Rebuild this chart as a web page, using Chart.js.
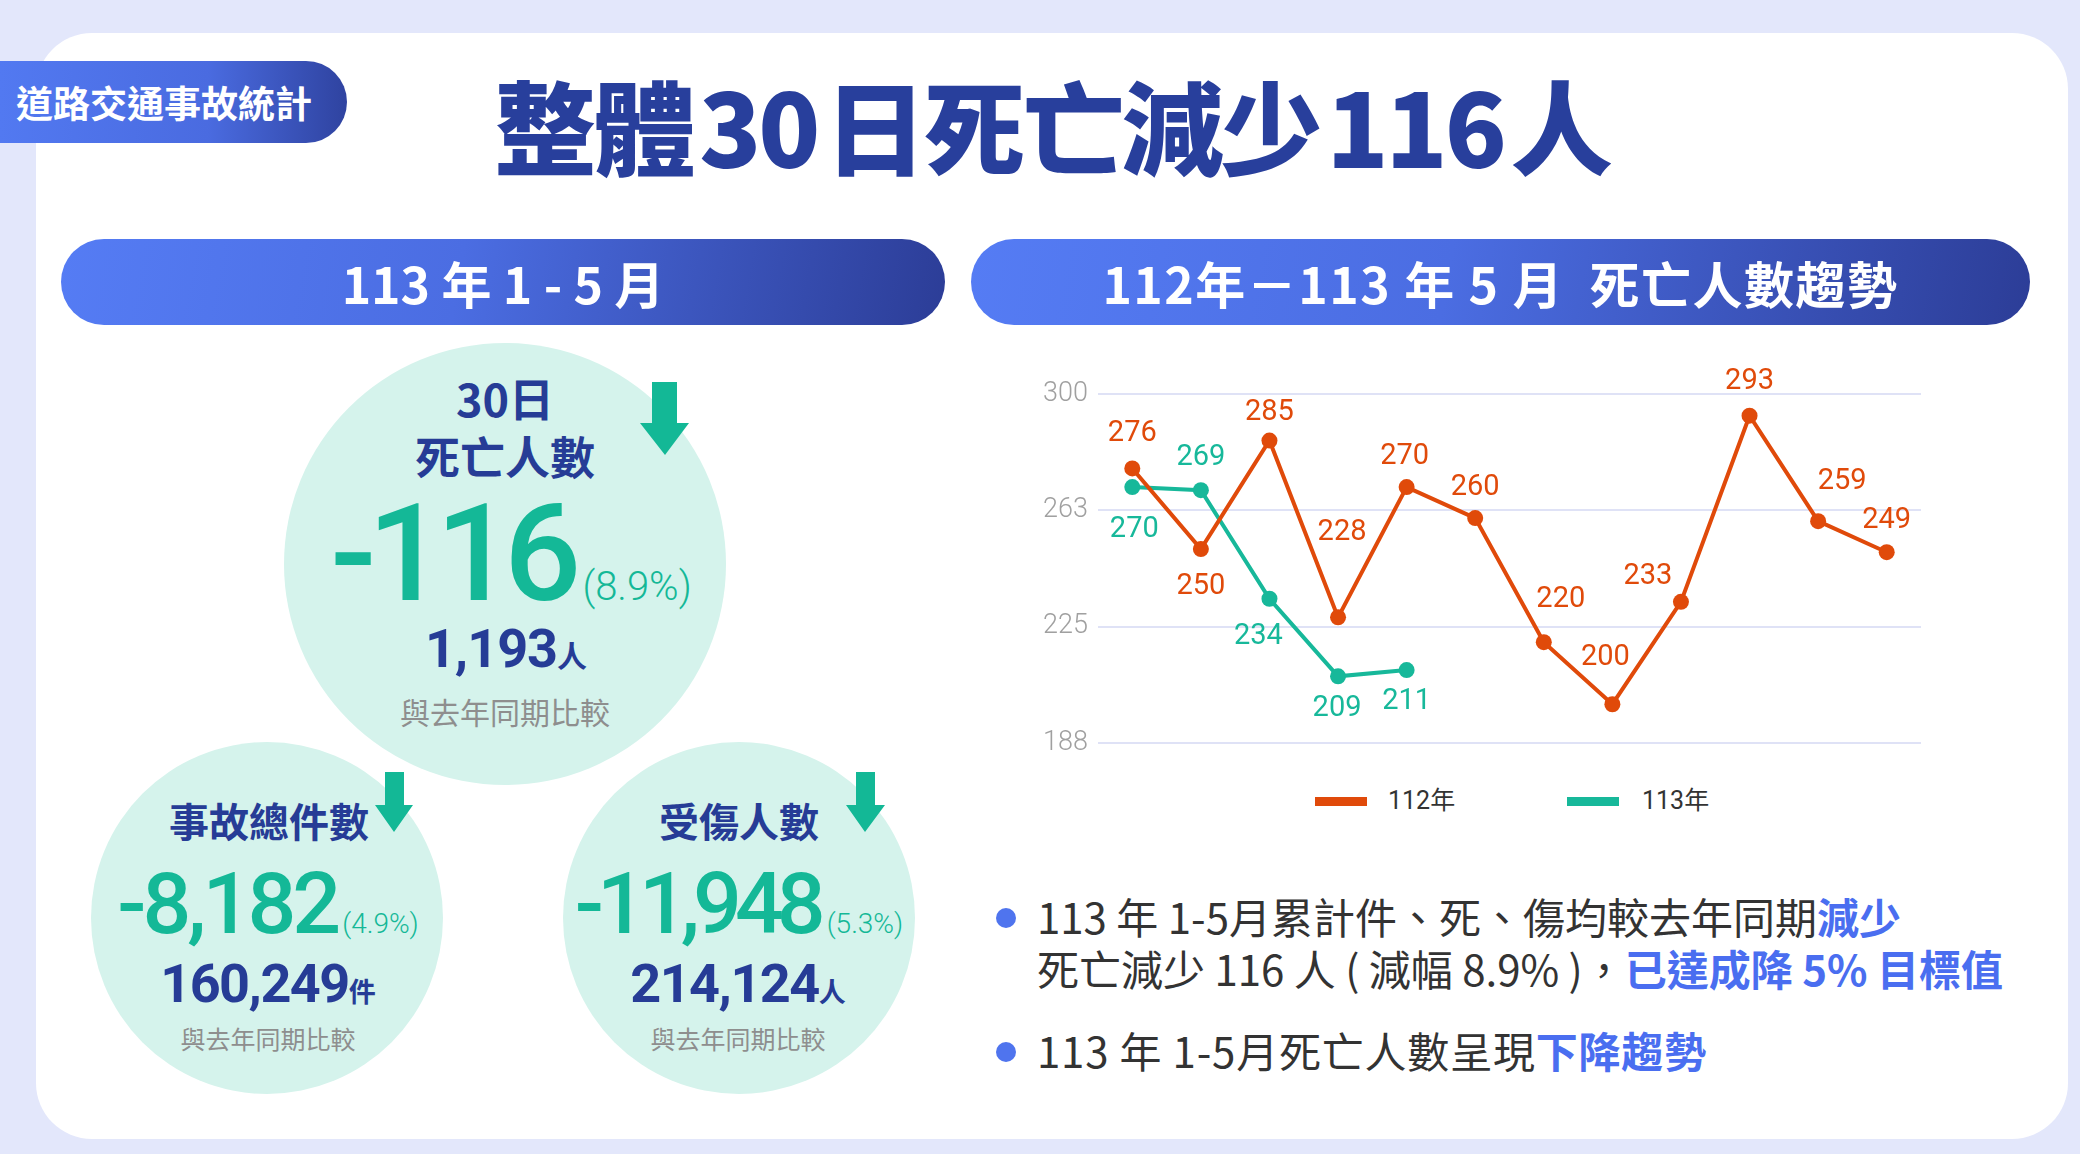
<!DOCTYPE html>
<html>
<head>
<meta charset="utf-8">
<script src="https://cdn.jsdelivr.net/npm/chart.js@4.4.1/dist/chart.umd.min.js"></script>
<style>
  body { margin: 0; width: 2080px; height: 1154px; background: #e3e7fb; position: relative; overflow: hidden;
         font-family: "Noto Sans CJK TC", "Noto Sans", sans-serif; }
  .abs { position: absolute; white-space: nowrap; }
  .card { left: 36px; top: 33px; width: 2032px; height: 1106px; background: #fff; border-radius: 56px; }
  .tag { left: 0; top: 61px; width: 347px; height: 82px; border-radius: 0 41px 41px 0;
         background: linear-gradient(90deg, #5279f1 0%, #4a6be0 60%, #2f43a0 100%);
         color: #fff; font-weight: 700; font-size: 37px; line-height: 82px; text-indent: 16px; }
  .title { left: 36px; width: 2032px; top: 68px; text-align: center; color: #283f9c; font-weight: 900;
           font-size: 102px; line-height: 112px; letter-spacing: -3px; }
  .title span { margin: 0 7px; }
  .pill { height: 86px; border-radius: 43px; color: #fff; font-weight: 700; font-size: 50px; line-height: 86px;
          text-align: center; background: linear-gradient(100deg, #557cf4 0%, #4b6de2 45%, #2c3d97 100%); }
  .row { text-align: center; width: 600px; }
  .navy { color: #263c96; font-weight: 700; }
  .num { font-family: Roboto, "Noto Sans", sans-serif; color: #14b897; line-height: 0.75; }
  .gray { color: #8e8e8e; }
  .txt { left: 1037px; font-size: 42px; color: #333; line-height: 1; }
  .hl { color: #4a6ef0; font-weight: 700; }
  .leg { top: 788px; font-family: Roboto, "Noto Sans CJK TC", sans-serif; font-size: 25px; color: #333; line-height: 26px; }
  .bar { top: 797px; width: 52px; height: 9px; }
  #chartBox { left: 1020px; top: 360px; width: 940px; height: 410px; }
</style>
</head>
<body>
<div class="abs card"></div>
<div class="abs tag">道路交通事故統計</div>
<div class="abs title">整體<span>30</span>日死亡減少<span>116</span>人</div>
<div class="abs pill" style="left:61px;top:239px;width:884px;">113 年 1 - 5 月</div>
<div class="abs pill" style="left:971px;top:239px;width:1059px;letter-spacing:1.5px;">112年－113 年 5 月&nbsp;&nbsp;死亡人數趨勢</div>

<svg class="abs" style="left:0;top:0" width="2080" height="1154">
  <circle cx="505" cy="564" r="221" fill="#d5f3ec"/>
  <circle cx="267" cy="918" r="176" fill="#d5f3ec"/>
  <circle cx="739" cy="918" r="176" fill="#d5f3ec"/>
  <polygon points="652,382 677,382 677,423 689,423 665,455 640,423 652,423" fill="#13b896"/>
  <polygon points="385,772 404,772 404,805 413,805 394,832 375,805 385,805" fill="#13b896"/>
  <polygon points="856,772 875,772 875,805 885,805 865,832 846,805 856,805" fill="#13b896"/>
  <circle cx="1006" cy="918" r="10" fill="#4f74ee"/>
  <circle cx="1006" cy="1052" r="10" fill="#4f74ee"/>
</svg>

<!-- big circle -->
<div class="abs row navy" style="left:205px;top:378px;font-size:45px;line-height:40px;">30日</div>
<div class="abs row navy" style="left:205px;top:436px;font-size:45px;line-height:40px;">死亡人數</div>
<div class="abs row num" style="left:211px;top:503px;"><span style="font-size:136px;font-weight:500;letter-spacing:-9px;">-116</span><span style="font-size:40px;font-weight:300;margin-left:10px;">(8.9%)</span></div>
<div class="abs row num navy" style="left:206px;top:629px;color:#263c96;"><span style="font-size:54px;letter-spacing:-1px;">1,193</span><span style="font-size:30px;font-family:'Noto Sans CJK TC';">人</span></div>
<div class="abs row gray" style="left:205px;top:698px;font-size:30px;line-height:26px;">與去年同期比較</div>

<!-- left small circle -->
<div class="abs row navy" style="left:-31px;top:802px;font-size:40px;line-height:36px;">事故總件數</div>
<div class="abs row num" style="left:-32px;top:872px;"><span style="font-size:86px;font-weight:500;letter-spacing:-4px;">-8,182</span><span style="font-size:28px;font-weight:300;margin-left:5px;">(4.9%)</span></div>
<div class="abs row num navy" style="left:-32px;top:964px;color:#263c96;"><span style="font-size:54px;letter-spacing:-1.5px;">160,249</span><span style="font-size:27px;font-family:'Noto Sans CJK TC';">件</span></div>
<div class="abs row gray" style="left:-32px;top:1027px;font-size:25px;line-height:22px;">與去年同期比較</div>

<!-- right small circle -->
<div class="abs row navy" style="left:439px;top:802px;font-size:40px;line-height:36px;">受傷人數</div>
<div class="abs row num" style="left:439px;top:872px;"><span style="font-size:86px;font-weight:500;letter-spacing:-7px;">-11,948</span><span style="font-size:28px;font-weight:300;margin-left:8px;">(5.3%)</span></div>
<div class="abs row num navy" style="left:438px;top:964px;color:#263c96;"><span style="font-size:54px;letter-spacing:-1.5px;">214,124</span><span style="font-size:27px;font-family:'Noto Sans CJK TC';">人</span></div>
<div class="abs row gray" style="left:438px;top:1027px;font-size:25px;line-height:22px;">與去年同期比較</div>

<!-- bullets -->
<div class="abs txt" style="top:897px;line-height:38px;">113 年 1-5月累計件、死、傷均較去年同期<span class="hl">減少</span></div>
<div class="abs txt" style="top:949px;line-height:38px;">死亡減少 116 人 ( 減幅 8.9% )，<span class="hl">已達成降 5% 目標值</span></div>
<div class="abs txt" style="top:1031px;line-height:38px;letter-spacing:0.8px;">113 年 1-5月死亡人數呈現<span class="hl">下降趨勢</span></div>

<!-- legend -->
<div class="abs bar" style="left:1315px;background:#e04a0a;"></div>
<div class="abs leg" style="left:1388px;">112年</div>
<div class="abs bar" style="left:1567px;background:#17b89a;"></div>
<div class="abs leg" style="left:1642px;">113年</div>

<div class="abs" id="chartBox"><canvas id="trend"></canvas></div>

<script>
// months (categories) and yearly series
const months = ['1月', '2月', '3月', '4月', '5月', '6月', '7月', '8月', '9月', '10月', '11月', '12月'];
const deaths112 = [276, 250, 285, 228, 270, 260, 220, 200, 233, 293, 259, 249];
const deaths113 = [270, 269, 234, 209, 211];
const yTicks = [187.5, 225, 262.5, 300];

const orange = '#e04a0a';
const teal = '#17b89a';

// draws each value beside its point
const valueLabels = {
  id: 'valueLabels',
  afterDatasetsDraw(chart) {
    const ctx = chart.ctx;
    ctx.save();
    ctx.font = '400 29px Roboto';
    ctx.textAlign = 'center';
    ctx.textBaseline = 'middle';
    chart.data.datasets.forEach((ds, i) => {
      chart.getDatasetMeta(i).data.forEach((pt, j) => {
        const shift = ds.labelShift[j];
        ctx.fillStyle = ds.borderColor;
        ctx.fillText(ds.data[j], pt.x + shift[0], pt.y + shift[1]);
      });
    });
    ctx.restore();
  }
};

new Chart(document.getElementById('trend'), {
  type: 'line',
  data: {
    labels: months,
    datasets: [{
      label: '112年',
      data: deaths112,
      borderColor: orange,
      backgroundColor: orange,
      labelShift: [[0, -35], [0, 38], [0, -28], [4, -85], [-2, -30], [0, -30], [17, -42], [-7, -46], [-33, -25], [0, -34], [24, -39], [0, -31]]
    }, {
      label: '113年',
      data: deaths113,
      borderColor: teal,
      backgroundColor: teal,
      labelShift: [[2, 43], [0, -32], [-11, 38], [-1, 32], [0, 32]]
    }]
  },
  options: {
    responsive: true,
    maintainAspectRatio: false,
    animation: false,
    layout: { padding: { top: 34, right: 39, bottom: 27, left: 0 } },
    elements: {
      line: { borderWidth: 4, tension: 0 },
      point: { radius: 8, hoverRadius: 8, borderWidth: 0 }
    },
    plugins: { legend: { display: false }, tooltip: { enabled: false } },
    scales: {
      x: { display: false, offset: true },
      y: {
        min: 187.5, max: 300,
        afterFit: s => { s.width = 78; },
        afterBuildTicks: s => { s.ticks = yTicks.map(v => ({ value: v })); },
        border: { display: false },
        grid: { color: '#dfe2f6', lineWidth: 2, drawTicks: false },
        ticks: {
          padding: 10,
          color: '#a0a0a0',
          font: { family: 'Roboto', size: 27, weight: 300 },
          callback: v => Math.round(v)
        }
      }
    }
  },
  plugins: [valueLabels]
});
</script>
</body>
</html>
